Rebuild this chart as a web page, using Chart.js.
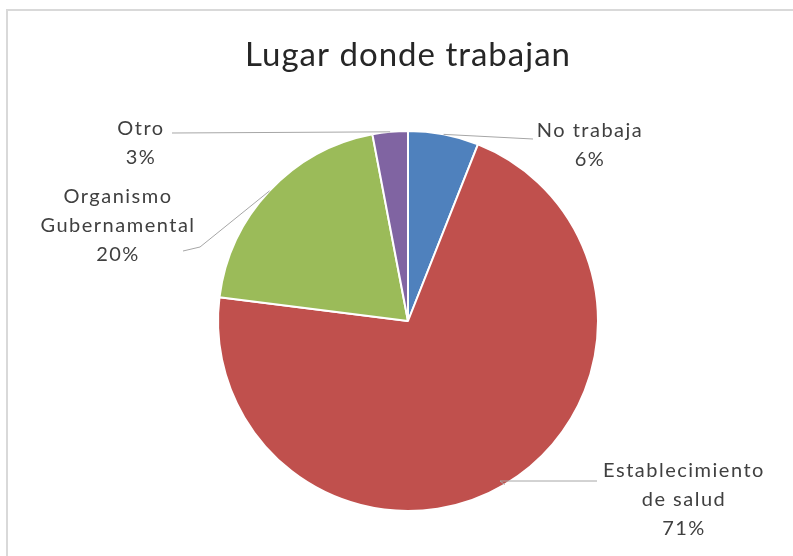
<!DOCTYPE html>
<html>
<head>
<meta charset="utf-8">
<style>
  html, body { margin: 0; padding: 0; background: #fff; }
  #wrap { width: 793px; height: 556px; }
</style>
<script src="https://cdn.jsdelivr.net/npm/chart.js@4/dist/chart.umd.min.js"></script>
</head>
<body>
<div id="wrap"><canvas id="pie" width="793" height="556"></canvas></div>
<script>
// data
var categories = ["No trabaja", "Establecimiento de salud", "Organismo Gubernamental", "Otro"];
var percents = [6, 71, 20, 3];
var sliceColors = ["#4f81bd", "#c0504d", "#9bbb59", "#8064a2"];

// label text lines and where each label block sits (center x, first baseline y)
var labelLines = [["No trabaja"], ["Establecimiento", "de salud"], ["Organismo", "Gubernamental"], ["Otro"]];
var labelPos = [
  { x: 590, y: 137, line: [[533, 139]] },
  { x: 684, y: 477, line: [[500, 481], [597, 481]] },
  { x: 118, y: 203, line: [[200, 247], [183, 251]] },
  { x: 141, y: 135, line: [[172, 133]] }
];

var labelsPlugin = {
  id: "excelLabels",
  afterDraw: function (chart) {
    var ctx = chart.ctx;
    ctx.save();

    // outer frame
    ctx.strokeStyle = "#d9d9d9";
    ctx.lineWidth = 2;
    ctx.beginPath();
    ctx.moveTo(7, 556);
    ctx.lineTo(7, 10);
    ctx.lineTo(793, 10);
    ctx.stroke();

    // title
    ctx.fillStyle = "#262626";
    ctx.font = "33px Lato, 'Open Sans', sans-serif";
    ctx.letterSpacing = "1px";
    ctx.textAlign = "center";
    ctx.textBaseline = "alphabetic";
    ctx.fillText("Lugar donde trabajan", 408, 66);

    var arcs = chart.getDatasetMeta(0).data;
    arcs.forEach(function (arc, i) {
      var p = arc.getProps(["x", "y", "startAngle", "endAngle", "outerRadius"], true);
      var mid = (p.startAngle + p.endAngle) / 2;
      var sx = p.x + Math.cos(mid) * p.outerRadius;
      var sy = p.y + Math.sin(mid) * p.outerRadius;

      // leader line
      ctx.strokeStyle = "#a6a6a6";
      ctx.lineWidth = 1;
      ctx.beginPath();
      ctx.moveTo(sx, sy);
      labelPos[i].line.forEach(function (pt) { ctx.lineTo(pt[0], pt[1]); });
      ctx.stroke();

      // label text + percentage
      ctx.fillStyle = "#404040";
      ctx.font = "20px Lato, 'Open Sans', sans-serif";
      ctx.letterSpacing = "1.5px";
      ctx.textAlign = "center";
      var lines = labelLines[i].concat([percents[i] + "%"]);
      lines.forEach(function (t, k) {
        ctx.fillText(t, labelPos[i].x, labelPos[i].y + k * 29);
      });
    });
    ctx.restore();
  }
};

new Chart(document.getElementById("pie"), {
  type: "pie",
  data: {
    labels: categories,
    datasets: [{
      data: percents,
      backgroundColor: sliceColors,
      borderColor: "#ffffff",
      borderWidth: 2
    }]
  },
  options: {
    responsive: false,
    animation: false,
    layout: { padding: { top: 130, bottom: 44, left: 217, right: 194 } },
    plugins: {
      legend: { display: false },
      title: { display: false },
      tooltip: { enabled: false }
    }
  },
  plugins: [labelsPlugin]
});
</script>
</body>
</html>
